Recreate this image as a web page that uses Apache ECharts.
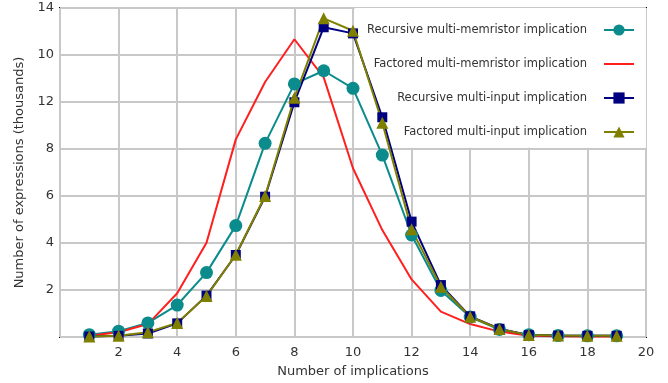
<!DOCTYPE html>
<html>
<head>
<meta charset="utf-8">
<script src="https://cdn.jsdelivr.net/npm/echarts@6/dist/echarts.min.js"></script>
<style>
  html, body { margin: 0; padding: 0; background: #fff; }
  #chart { width: 668px; height: 383px; }
</style>
</head>
<body>
<div id="chart"></div>
<script>
// implications count on x
const implications = [1, 2, 3, 4, 5, 6, 7, 8, 9, 10, 11, 12, 13, 14, 15, 16, 17, 18, 19]

// expressions, thousands
const recursiveMemristor = [0.1, 0.25, 0.6, 1.36, 2.74, 4.74, 8.24, 10.77, 11.33, 10.58, 7.74, 4.34, 1.98, 0.85, 0.32, 0.1, 0.06, 0.05, 0.05]
const factoredMemristor = [0.05, 0.2, 0.55, 1.86, 4.01, 8.41, 10.85, 12.67, 11.05, 7.18, 4.55, 2.45, 1.08, 0.55, 0.23, 0.05, 0.03, 0.02, 0.02]
const recursiveInput = [0.02, 0.05, 0.15, 0.58, 1.76, 3.49, 5.97, 9.99, 13.18, 12.92, 9.35, 4.91, 2.21, 0.88, 0.35, 0.08, 0.06, 0.05, 0.05]
const factoredInput = [0.02, 0.05, 0.2, 0.6, 1.74, 3.5, 6.0, 10.18, 13.56, 13.03, 9.12, 4.58, 2.14, 0.86, 0.34, 0.08, 0.06, 0.05, 0.05]

const seriesNames = [
  'Recursive multi-memristor implication',
  'Factored multi-memristor implication',
  'Recursive multi-input implication',
  'Factored multi-input implication'
]

// y tick labels as printed in the source figure (10 and 12 are swapped there)
const yTickLabels = { 0: '', 2: '2', 4: '4', 6: '6', 8: '8', 10: '12', 12: '10', 14: '14' }

const pairs = values => implications.map((x, i) => [x, values[i]])

const chart = echarts.init(document.getElementById('chart'))

const font = 'DejaVu Sans'

chart.setOption({
  animation: false,
  grid: {
    left: 60,
    right: 22,
    top: 8,
    bottom: 46,
    show: true,
    borderColor: '#000',
    borderWidth: 2
  },
  legend: {
    orient: 'vertical',
    align: 'right',
    right: 28,
    top: 19,
    itemWidth: 30,
    itemHeight: 14,
    itemGap: 22,
    data: [
      seriesNames[0],
      // red line has no marker, so hide the legend symbol
      { name: seriesNames[1], itemStyle: { opacity: 0 } },
      seriesNames[2],
      seriesNames[3]
    ],
    textStyle: {
      fontFamily: font,
      fontSize: 11.5,
      color: '#333',
      padding: [0, 12, 0, 0]
    }
  },
  xAxis: {
    type: 'value',
    min: 0,
    max: 20,
    interval: 2,
    name: 'Number of implications',
    nameLocation: 'middle',
    nameGap: 28,
    nameTextStyle: { fontFamily: font, fontSize: 13, color: '#333' },
    axisLine: { show: false },
    axisTick: { show: false },
    axisLabel: {
      fontFamily: font,
      fontSize: 13,
      color: '#333',
      margin: 9,
      formatter: v => (v === 0 ? '' : String(v))
    },
    splitLine: { lineStyle: { color: '#c8c8c8', width: 2 } }
  },
  yAxis: {
    type: 'value',
    min: 0,
    max: 14,
    interval: 2,
    name: 'Number of expressions (thousands)',
    nameLocation: 'middle',
    nameGap: 30,
    nameTextStyle: { fontFamily: font, fontSize: 13, color: '#333' },
    axisLine: { show: false },
    axisTick: { show: false },
    axisLabel: {
      fontFamily: font,
      fontSize: 13,
      color: '#333',
      margin: 6,
      padding: [8, 0, 0, 0],
      formatter: v => yTickLabels[v]
    },
    splitLine: { lineStyle: { color: '#c8c8c8', width: 2 } }
  },
  series: [
    {
      // white panel behind the legend
      type: 'line',
      data: [],
      z: 1,
      silent: true,
      markArea: {
        silent: true,
        itemStyle: { color: '#fff' },
        data: [[{ coord: [10.06, 8.05] }, { coord: [20, 14] }]]
      }
    },
    {
      name: seriesNames[0],
      type: 'line',
      z: 2,
      data: pairs(recursiveMemristor),
      symbol: 'circle',
      symbolSize: 13,
      color: '#0b8b8b',
      lineStyle: { width: 2 }
    },
    {
      name: seriesNames[1],
      type: 'line',
      z: 2,
      data: pairs(factoredMemristor),
      showSymbol: false,
      symbol: 'none',
      color: '#ff1f1f',
      lineStyle: { width: 2 }
    },
    {
      name: seriesNames[2],
      type: 'line',
      z: 2,
      data: pairs(recursiveInput),
      symbol: 'rect',
      symbolSize: 10,
      color: '#000080',
      lineStyle: { width: 2 }
    },
    {
      name: seriesNames[3],
      type: 'line',
      z: 2,
      data: pairs(factoredInput),
      symbol: 'triangle',
      symbolSize: 12,
      color: '#808000',
      lineStyle: { width: 2 }
    }
  ]
})
</script>
</body>
</html>
